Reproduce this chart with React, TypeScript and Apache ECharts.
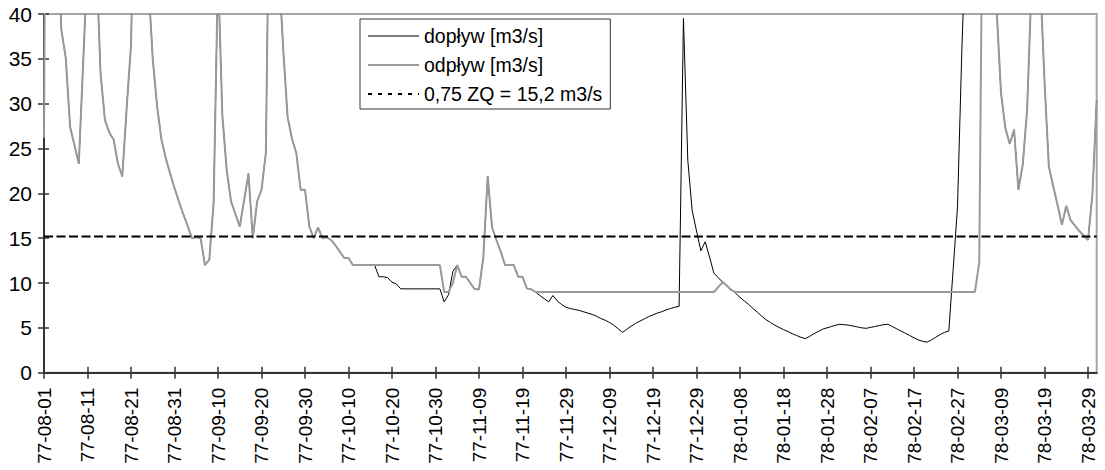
import React, { useEffect, useRef } from "react";
import * as echarts from "echarts";

// Daily series, 1977-08-01 .. 1978-03-31
const startDate = "1977-08-01";

const odplyw: number[] = [
  // 77-08-01
  26.2, 120, 110, 50, 38.2, 35.1, 27.4, 25.4, 23.3, 34.5,
  46, 80, 46.5, 33.4, 28.2, 26.8, 26.0, 23.3, 21.9, 29.5,
  36.5, 60, 90, 70, 43.5, 35.0, 29.7, 26.0, 23.9, 22.2,
  20.6, 19.1, 17.7, 16.4, 15.0, 15.1, 15.0, 12.0, 12.6, 19.0,
  45, 28.7, 22.6, 19.1, 17.7, 16.3, 19.2, 22.2, 15.0, 19.1,
  20.4, 24.5, 63, 60, 45, 36, 28.5, 26.1, 24.5, 20.4,
  20.4, 16.3, 15.0, 16.2, 15.0, 15.1, 14.8, 14.2, 13.5, 12.8,
  12.8, 12.0, 12.0, 12.0, 12.0, 12.0, 12.0, 12.0, 12.0, 12.0,
  12.0, 12.0, 12.0, 12.0, 12.0, 12.0, 12.0, 12.0, 12.0, 12.0,
  12.0, 12.0, 9.0, 9.0, 10.0, 12.0, 10.7, 10.7, 10.0, 9.3,
  9.3, 12.9, 21.9, 16.2, 14.8, 13.5, 12.0, 12.0, 12.0, 10.7,
  10.7, 9.4, 9.3, 9.0, 9.0, 9.0, 9.0, 9.0, 9.0, 9.0,
  9.0, 9.0, 9.0, 9.0, 9.0, 9.0, 9.0, 9.0, 9.0, 9.0,
  9.0, 9.0, 9.0, 9.0, 9.0, 9.0, 9.0, 9.0, 9.0, 9.0,
  9.0, 9.0, 9.0, 9.0, 9.0, 9.0, 9.0, 9.0, 9.0, 9.0,
  9.0, 9.0, 9.0, 9.0, 9.0, 9.55, 10.1, 9.7, 9.2, 9.0,
  9.0, 9.0, 9.0, 9.0, 9.0, 9.0, 9.0, 9.0, 9.0, 9.0,
  9.0, 9.0, 9.0, 9.0, 9.0, 9.0, 9.0, 9.0, 9.0, 9.0,
  9.0, 9.0, 9.0, 9.0, 9.0, 9.0, 9.0, 9.0, 9.0, 9.0,
  9.0, 9.0, 9.0, 9.0, 9.0, 9.0, 9.0, 9.0, 9.0, 9.0,
  9.0, 9.0, 9.0, 9.0, 9.0, 9.0, 9.0, 9.0, 9.0, 9.0,
  9.0, 9.0, 9.0, 9.0, 9.0, 12.3, 68, 80, 70, 40.5,
  31.2, 27.3, 25.5, 27.1, 20.4, 23.2, 29.3, 43, 60, 44,
  32.5, 23.0, 20.8, 18.7, 16.5, 18.6, 17.0, 16.4, 15.8, 15.3,
  14.8, 19.8, 30.4,
];

const doplyw: number[] = [
  // 77-08-01
  26.2, 120, 110, 50, 38.2, 35.1, 27.4, 25.4, 23.3, 34.5,
  46, 80, 46.5, 33.4, 28.2, 26.8, 26.0, 23.3, 21.9, 29.5,
  36.5, 60, 90, 70, 43.5, 35.0, 29.7, 26.0, 23.9, 22.2,
  20.6, 19.1, 17.7, 16.4, 15.0, 15.1, 15.0, 12.0, 12.6, 19.0,
  45, 28.7, 22.6, 19.1, 17.7, 16.3, 19.2, 22.2, 15.0, 19.1,
  20.4, 24.5, 63, 60, 45, 36, 28.5, 26.1, 24.5, 20.4,
  20.4, 16.3, 15.0, 16.2, 15.0, 15.1, 14.8, 14.2, 13.5, 12.8,
  12.8, 12.0, 12.0, 12.0, 12.0, 12.0, 12.0, 10.7, 10.7, 10.6,
  10.1, 9.9, 9.35, 9.35, 9.35, 9.35, 9.35, 9.35, 9.35, 9.35,
  9.35, 9.35, 7.9, 8.7, 11.3, 12.0, 10.7, 10.7, 10.0, 9.3,
  9.3, 12.9, 21.9, 16.2, 14.8, 13.5, 12.0, 12.0, 12.0, 10.7,
  10.7, 9.4, 9.3, 9.0, 8.6, 8.25, 7.9, 8.6, 8.0, 7.6,
  7.3, 7.15, 7.05, 6.95, 6.8, 6.65, 6.5, 6.3, 6.05, 5.85,
  5.6, 5.3, 4.9, 4.5, 4.85, 5.2, 5.5, 5.75, 6.0, 6.25,
  6.45, 6.65, 6.8, 7.0, 7.15, 7.3, 7.4, 39.5, 23.7, 18.1,
  15.8, 13.6, 14.6, 12.9, 11.1, 10.6, 10.1, 9.7, 9.3, 8.85,
  8.4, 8.0, 7.6, 7.15, 6.75, 6.3, 5.9, 5.6, 5.3, 5.05,
  4.8, 4.6, 4.35, 4.15, 3.95, 3.8, 4.05, 4.35, 4.6, 4.85,
  5.0, 5.15, 5.3, 5.4, 5.35, 5.3, 5.2, 5.1, 5.0, 4.95,
  5.05, 5.15, 5.25, 5.35, 5.4, 5.15, 4.9, 4.65, 4.4, 4.15,
  3.9, 3.65, 3.5, 3.4, 3.65, 3.95, 4.25, 4.5, 4.65, 11.5,
  18.5, 36, 50, 65, 75, 80, 80, 80, 70, 40.5,
  31.2, 27.3, 25.5, 27.1, 20.4, 23.2, 29.3, 43, 60, 44,
  32.5, 23.0, 20.8, 18.7, 16.5, 18.6, 17.0, 16.4, 15.8, 15.3,
  14.8, 19.8, 30.4,
];

const thresholdValue = 15.2;
const seriesNames = ["dopływ [m3/s]", "odpływ [m3/s]", "0,75 ZQ = 15,2 m3/s"];
const yTicks = { min: 0, max: 40, interval: 5 };

function buildDates(start: string, count: number): string[] {
  const [y, m, d] = start.split("-").map(Number);
  const out: string[] = [];
  for (let i = 0; i < count; i++) {
    const dt = new Date(Date.UTC(y, m - 1, d + i));
    const yy = String(dt.getUTCFullYear() % 100).padStart(2, "0");
    const mm = String(dt.getUTCMonth() + 1).padStart(2, "0");
    const dd = String(dt.getUTCDate()).padStart(2, "0");
    out.push(`${yy}-${mm}-${dd}`);
  }
  return out;
}

const categories = buildDates(startDate, odplyw.length);

const FONT = "'Liberation Sans', Arial, sans-serif";

export default function App() {
  const ref = useRef<HTMLDivElement>(null);
  useEffect(() => {
    if (!ref.current) return;
    const chart = echarts.init(ref.current, undefined, { renderer: "svg" });
    const last = categories.length - 1;
    const hiddenSymbol = { opacity: 0, color: "transparent", borderWidth: 0 };
    chart.setOption({
      animation: false,
      backgroundColor: "#ffffff",
      textStyle: { fontFamily: FONT },
      grid: {
        left: 44,
        right: 8.3,
        top: 14,
        bottom: 97.3,
        show: true,
        borderColor: "#a6a6a6",
        borderWidth: 2,
        backgroundColor: "transparent",
        outerBoundsMode: "none",
        containLabel: false,
      },
      legend: {
        orient: "vertical",
        left: 360,
        top: 19,
        padding: [7, 8, 5, 7],
        itemGap: 9,
        itemWidth: 51,
        itemHeight: 14,
        borderColor: "#333",
        borderWidth: 1,
        backgroundColor: "#fff",
        itemStyle: hiddenSymbol,
        textStyle: { fontFamily: FONT, fontSize: 19.5, color: "#000" },
        data: [
          { name: seriesNames[0], itemStyle: hiddenSymbol, lineStyle: { width: 1, color: "#000" } },
          { name: seriesNames[1], itemStyle: hiddenSymbol, lineStyle: { width: 2, color: "#999" } },
          { name: seriesNames[2], itemStyle: hiddenSymbol, lineStyle: { width: 2, color: "#000", type: [4, 6] } },
        ],
      },
      xAxis: [
        {
          type: "category",
          position: "bottom",
          data: categories,
          boundaryGap: false,
          axisLine: { show: true, lineStyle: { color: "#333", width: 2 } },
          axisTick: { show: true, interval: 9, length: 6, lineStyle: { color: "#333", width: 1.5 } },
          axisLabel: {
            show: true,
            interval: 9,
            rotate: 90,
            margin: 15,
            fontSize: 19,
            fontFamily: FONT,
            color: "#000",
          },
          splitLine: { show: false },
        },
        {
          type: "category",
          position: "bottom",
          data: categories,
          boundaryGap: false,
          axisLine: { show: false },
          axisTick: { show: true, inside: true, interval: 9, length: 6, lineStyle: { color: "#333", width: 1.5 } },
          axisLabel: { show: false },
          splitLine: { show: false },
        },
      ],
      yAxis: [
        {
          type: "value",
          position: "left",
          min: yTicks.min,
          max: yTicks.max,
          interval: yTicks.interval,
          axisLine: { show: true, lineStyle: { color: "#333", width: 2 } },
          axisTick: { show: true, length: 6, lineStyle: { color: "#333", width: 1.5 } },
          axisLabel: { margin: 12, fontSize: 21, fontFamily: FONT, color: "#000" },
          splitLine: { show: false },
        },
        {
          type: "value",
          position: "left",
          min: yTicks.min,
          max: yTicks.max,
          interval: yTicks.interval,
          axisLine: { show: false },
          axisTick: { show: true, inside: true, length: 5, lineStyle: { color: "#333", width: 1.5 } },
          axisLabel: { show: false },
          splitLine: { show: false },
        },
      ],
      series: [
        {
          name: seriesNames[0],
          type: "line",
          data: doplyw,
          symbol: "none",
          clip: true,
          lineStyle: { color: "#000", width: 1 },
          itemStyle: { color: "#000" },
        },
        {
          name: seriesNames[1],
          type: "line",
          data: odplyw,
          symbol: "none",
          clip: true,
          lineStyle: { color: "#999", width: 2 },
          itemStyle: { color: "#999" },
        },
        {
          name: seriesNames[2],
          type: "line",
          data: [
            [categories[0], thresholdValue],
            [categories[last], thresholdValue],
          ],
          symbol: "none",
          clip: true,
          lineStyle: { color: "#000", width: 2, type: [9, 3.5] },
          itemStyle: { color: "#000" },
        },
      ],
    });
    return () => chart.dispose();
  }, []);
  return (
    <div
      ref={ref}
      style={{ position: "fixed", left: 0, top: 0, width: 1105, height: 470 }}
    />
  );
}
